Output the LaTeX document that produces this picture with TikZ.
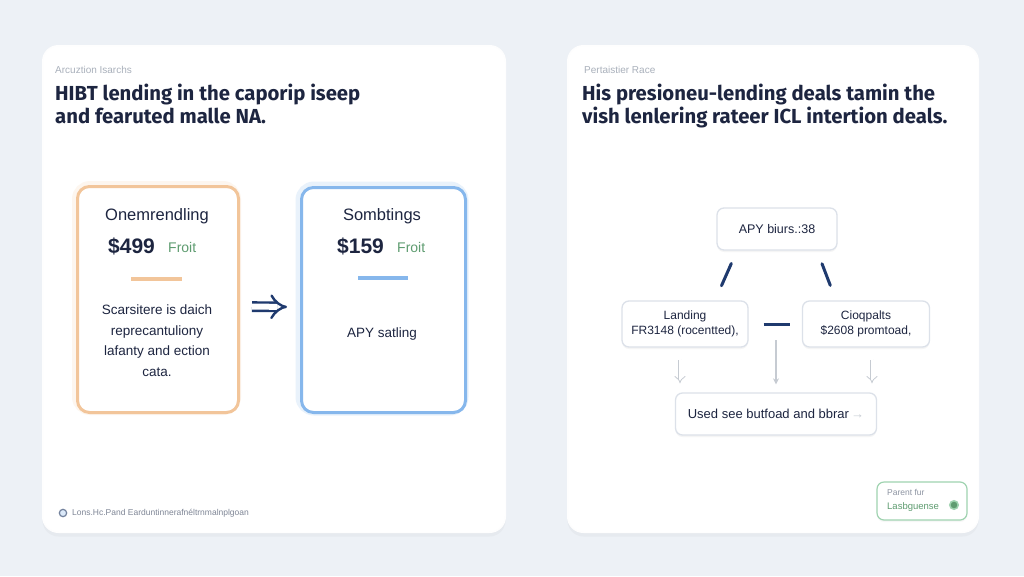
\documentclass[tikz,border=0pt]{standalone}
\usepackage{fontspec}
\setmainfont{Fira Sans}
\newfontfamily\bodyfont{Liberation Sans}
\usetikzlibrary{arrows.meta,shadows,calc}
\definecolor{bgc}{HTML}{EDF1F6}
\definecolor{ink}{HTML}{1D2540}
\definecolor{grayt}{HTML}{A9B0BB}
\definecolor{greent}{HTML}{5E9C70}
\definecolor{orangeb}{HTML}{F2C59A}
\definecolor{blueb}{HTML}{86B7EC}
\definecolor{navy}{HTML}{1F3A6E}
\definecolor{lgray}{HTML}{C6CBD2}
\definecolor{nodeb}{HTML}{DCE1E9}
\definecolor{greenb}{HTML}{9FD3B0}
\tikzset{
  panel/.style={draw=white!94!bgc, fill=white, rounded corners=16pt, line width=1pt,
    drop shadow={opacity=0.06, shadow xshift=0pt, shadow yshift=-4pt}},
  kicker/.style={text=grayt, font=\bodyfont\fontsize{10}{12}\selectfont, anchor=base west, inner sep=0pt},
  title/.style={text=ink, font=\bfseries\fontsize{20.3}{23}\selectfont, anchor=base west, inner sep=0pt, align=left},
  card/.style={fill=white, rounded corners=12pt, line width=3pt, minimum width=#1},
  cardhead/.style={text=ink, font=\bodyfont\fontsize{16.5}{18}\selectfont, inner sep=0pt},
  price/.style={text=ink, font=\bodyfont\bfseries\fontsize{21}{23}\selectfont, inner sep=0pt},
  cardbody/.style={text=ink, font=\bodyfont\fontsize{13.5}{20.5}\selectfont, inner sep=0pt, align=center},
  dnode/.style={draw=nodeb, fill=white, rounded corners=7pt, line width=1.3pt, align=center,
    text=ink, font=\bodyfont\fontsize{12.5}{16}\selectfont,
    drop shadow={opacity=0.08, shadow xshift=0pt, shadow yshift=-2pt}},
  navyline/.style={draw=navy, line width=3pt},
}
\begin{document}
\begin{tikzpicture}[x=1pt,y=-1pt]
\useasboundingbox (0,0) rectangle (1024,576);
\fill[bgc] (0,0) rectangle (1024,576);
% soft glows
\fill[blueb, opacity=0.05] (300,420) ellipse (190pt and 90pt);
% panels
\node[panel, minimum width=463pt, minimum height=487pt, anchor=north west] (lp) at (42,45) {};
\node[panel, minimum width=411pt, minimum height=487pt, anchor=north west] (rp) at (567,45) {};
% left panel header
\node[kicker] (lk) at (55,73) {Arcuztion Isarchs};
\node[title] (lt1) at (55,100) {HIBT lending in the caporip iseep};
\node[title] (lt2) at (55,123) {and fearuted malle NA.};
% card glows
\draw[orangeb, opacity=0.15, line width=8pt, rounded corners=14pt] (76,185) rectangle (237,411);
\draw[blueb, opacity=0.18, line width=9pt, rounded corners=14pt] (300,186) rectangle (464,411);
% cards
\node[card=161pt, draw=orangeb, minimum height=226pt, anchor=north west] (ocard) at (76,185) {};
\node[card=164pt, draw=blueb, minimum height=225pt, anchor=north west] (bcard) at (300,186) {};
\node[cardhead, anchor=base] (oh) at (157,220) {Onemrendling};
\node[price, anchor=base west] (op) at (108,253) {\$499};
\node[anchor=base west, inner sep=0pt, text=greent, font=\bodyfont\fontsize{14}{16}\selectfont] (og) at (168,252) {Froit};
\draw[orangeb, line width=4pt] (131,279) -- (182,279);
\node[cardbody, anchor=north] (ob) at (157,305) {Scarsitere is daich\\reprecantuliony\\lafanty and ection\\cata.};
\node[cardhead, anchor=base] (bh) at (382,220) {Sombtings};
\node[price, anchor=base west] (bp) at (337,253) {\$159};
\node[anchor=base west, inner sep=0pt, text=greent, font=\bodyfont\fontsize{14}{16}\selectfont] (bg) at (397,252) {Froit};
\draw[blueb, line width=4pt] (358,278) -- (408,278);
\node[cardbody, anchor=base] (bb) at (382,337) {APY satling};
\draw[navy, line width=2.4pt, double=white, double distance=6pt, -{Implies}, shorten <=12pt, shorten >=13pt]
  ([yshift=-7pt]ocard.east) -- ([yshift=-7pt]bcard.west);
% left footer
\node[circle, draw=grayt!60!navy, fill=blueb!30, line width=1.2pt, inner sep=2.6pt] (fi) at (63,513) {};
\node[anchor=west, inner sep=0pt, text=grayt!70!ink, font=\bodyfont\fontsize{8.5}{10}\selectfont] (ft) at (72,513) {Lons.Hc.Pand Earduntinnerafnéltrnmalnplgoan};
% right panel header
\node[kicker] (rk) at (584,73) {Pertaistier Race};
\node[title] (rt1) at (582,100) {His presioneu-lending deals tamin the};
\node[title] (rt2) at (582,123) {vish lenlering rateer ICL intertion deals.};
% diagram
\node[dnode, minimum width=120pt, minimum height=42pt] (top) at (777,229) {APY biurs.:38};
\node[dnode, minimum width=126pt, minimum height=46pt, font=\bodyfont\fontsize{12}{15}\selectfont] (lft) at (685,324) {Landing\\FR3148 (rocentted),};
\node[dnode, minimum width=127pt, minimum height=46pt, font=\bodyfont\fontsize{12}{15}\selectfont] (rgt) at (866,324) {Cioqpalts\\\$2608 promtoad,};
\node[dnode, minimum width=201pt, minimum height=42pt, font=\bodyfont\fontsize{13}{16}\selectfont] (bot) at (776,414) {Used see butfoad and bbrar\,\textcolor{lgray}{→}};
\draw[navyline, shorten <=14pt, shorten >=16pt, line cap=round] (top.south) ++(-40,0) coordinate (ta) (ta) -- ($(lft.north)+(30,0)$);
\draw[navyline, shorten <=14pt, shorten >=16pt, line cap=round] (top.south) ++(40,0) coordinate (tb) (tb) -- ($(rgt.north)+(-30,0)$);
\draw[navyline] ([xshift=15pt]lft.east) -- ([xshift=-12pt]rgt.west);
\draw[lgray, line width=0.8pt, double=white, double distance=3pt, -{Implies}, shorten <=12pt, shorten >=9pt]
  ([xshift=-5pt]lft.south) -- ([xshift=-96pt]bot.north);
\draw[lgray, line width=1.6pt, -{Stealth[length=6pt,width=6pt]}, shorten <=16pt, shorten >=8pt]
  (lft.east -| bot.north) -- (bot.north);
\draw[lgray, line width=0.8pt, double=white, double distance=3pt, -{Implies}, shorten <=12pt, shorten >=9pt]
  ([xshift=6pt]rgt.south) -- ([xshift=96pt]bot.north);
% badge
\node[draw=greenb, fill=white, rounded corners=7pt, line width=1.2pt, minimum width=90pt, minimum height=38pt,
  drop shadow={opacity=0.06, shadow xshift=0pt, shadow yshift=-2pt}] (badge) at (922,501) {};
\node[anchor=base west, inner sep=0pt, text=grayt!80!ink, font=\bodyfont\fontsize{8.5}{10}\selectfont] (bt1) at (887,495) {Parent fur};
\node[anchor=base west, inner sep=0pt, text=greent, font=\bodyfont\fontsize{9.5}{10}\selectfont] (bt2) at (887,509) {Lasbguense};
\node[circle, fill=greent, draw=greenb, line width=1.5pt, inner sep=3pt] (bdot) at (954,505) {};
\end{tikzpicture}
\end{document}
